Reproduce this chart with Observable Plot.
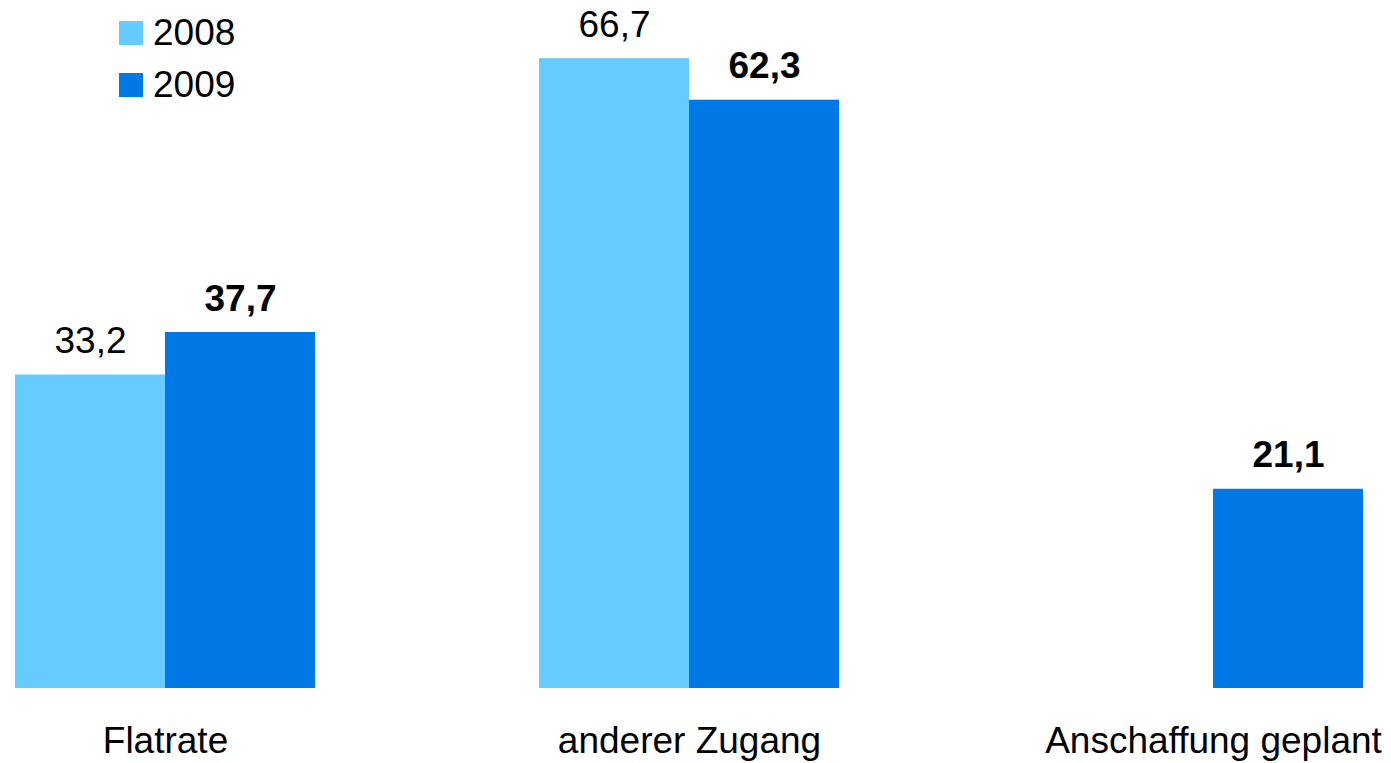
<!DOCTYPE html>
<html>
<head>
<meta charset="utf-8">
<script src="https://cdn.jsdelivr.net/npm/d3@7"></script>
<script src="https://cdn.jsdelivr.net/npm/@observablehq/plot@0.6"></script>
<style>
  html, body { margin: 0; padding: 0; background: #fff; }
  #wrap { position: relative; width: 1391px; height: 763px; font-family: "Liberation Sans", Arial, sans-serif; color: #000; }
  .legend { position: absolute; left: 119px; top: 7px; font-size: 37px; line-height: 52px; }
  .legend .item { display: flex; align-items: center; height: 52px; }
  .legend .sw { width: 24px; height: 24px; margin-right: 10px; }
</style>
</head>
<body>
<div id="wrap"></div>
<script>
const categories = ["Flatrate", "anderer Zugang", "Anschaffung geplant"];
const years = ["2008", "2009"];
const colors = ["#66CCFF", "#0078E6"];
const values2008 = [33.2, 66.7, null];
const values2009 = [37.7, 62.3, 21.1];

const data = [];
categories.forEach((c, i) => {
  if (values2008[i] != null) data.push({category: c, year: "2008", value: values2008[i]});
  if (values2009[i] != null) data.push({category: c, year: "2009", value: values2009[i]});
});
const fmt = v => d3.format(".1f")(v).replace(".", ",");

const wrap = document.getElementById("wrap");

const chart = Plot.plot({
  width: 1391,
  height: 763,
  marginLeft: 15,
  marginRight: 28,
  marginTop: 27,
  marginBottom: 75,
  style: {fontFamily: "'Liberation Sans', Arial, sans-serif", color: "#000", background: "#fff"},
  fx: {domain: categories, paddingInner: 0.4275, paddingOuter: 0, label: null},
  x: {domain: years, padding: 0, axis: null},
  y: {domain: [0, 70], axis: null},
  color: {domain: years, range: colors},
  marks: [
    Plot.barY(data, {fx: "category", x: "year", y: "value", fill: "year"}),
    Plot.text(data.filter(d => d.year === "2008"), {fx: "category", x: "year", y: "value", text: d => fmt(d.value), lineAnchor: "bottom", dy: -22, fontSize: 37, fill: "#000"}),
    Plot.text(data.filter(d => d.year === "2009"), {fx: "category", x: "year", y: "value", text: d => fmt(d.value), lineAnchor: "bottom", dy: -22, fontSize: 37, fontWeight: "bold", fill: "#000"}),
    Plot.axisFx({anchor: "bottom", tickSize: 0, tickPadding: 38, fontSize: 37, label: null})
  ]
});
wrap.appendChild(chart);

const legend = document.createElement("div");
legend.className = "legend";
years.forEach((y, i) => {
  const item = document.createElement("div");
  item.className = "item";
  const sw = document.createElement("span");
  sw.className = "sw";
  sw.style.background = colors[i];
  const t = document.createElement("span");
  t.textContent = y;
  item.appendChild(sw);
  item.appendChild(t);
  legend.appendChild(item);
});
wrap.appendChild(legend);
</script>
</body>
</html>
